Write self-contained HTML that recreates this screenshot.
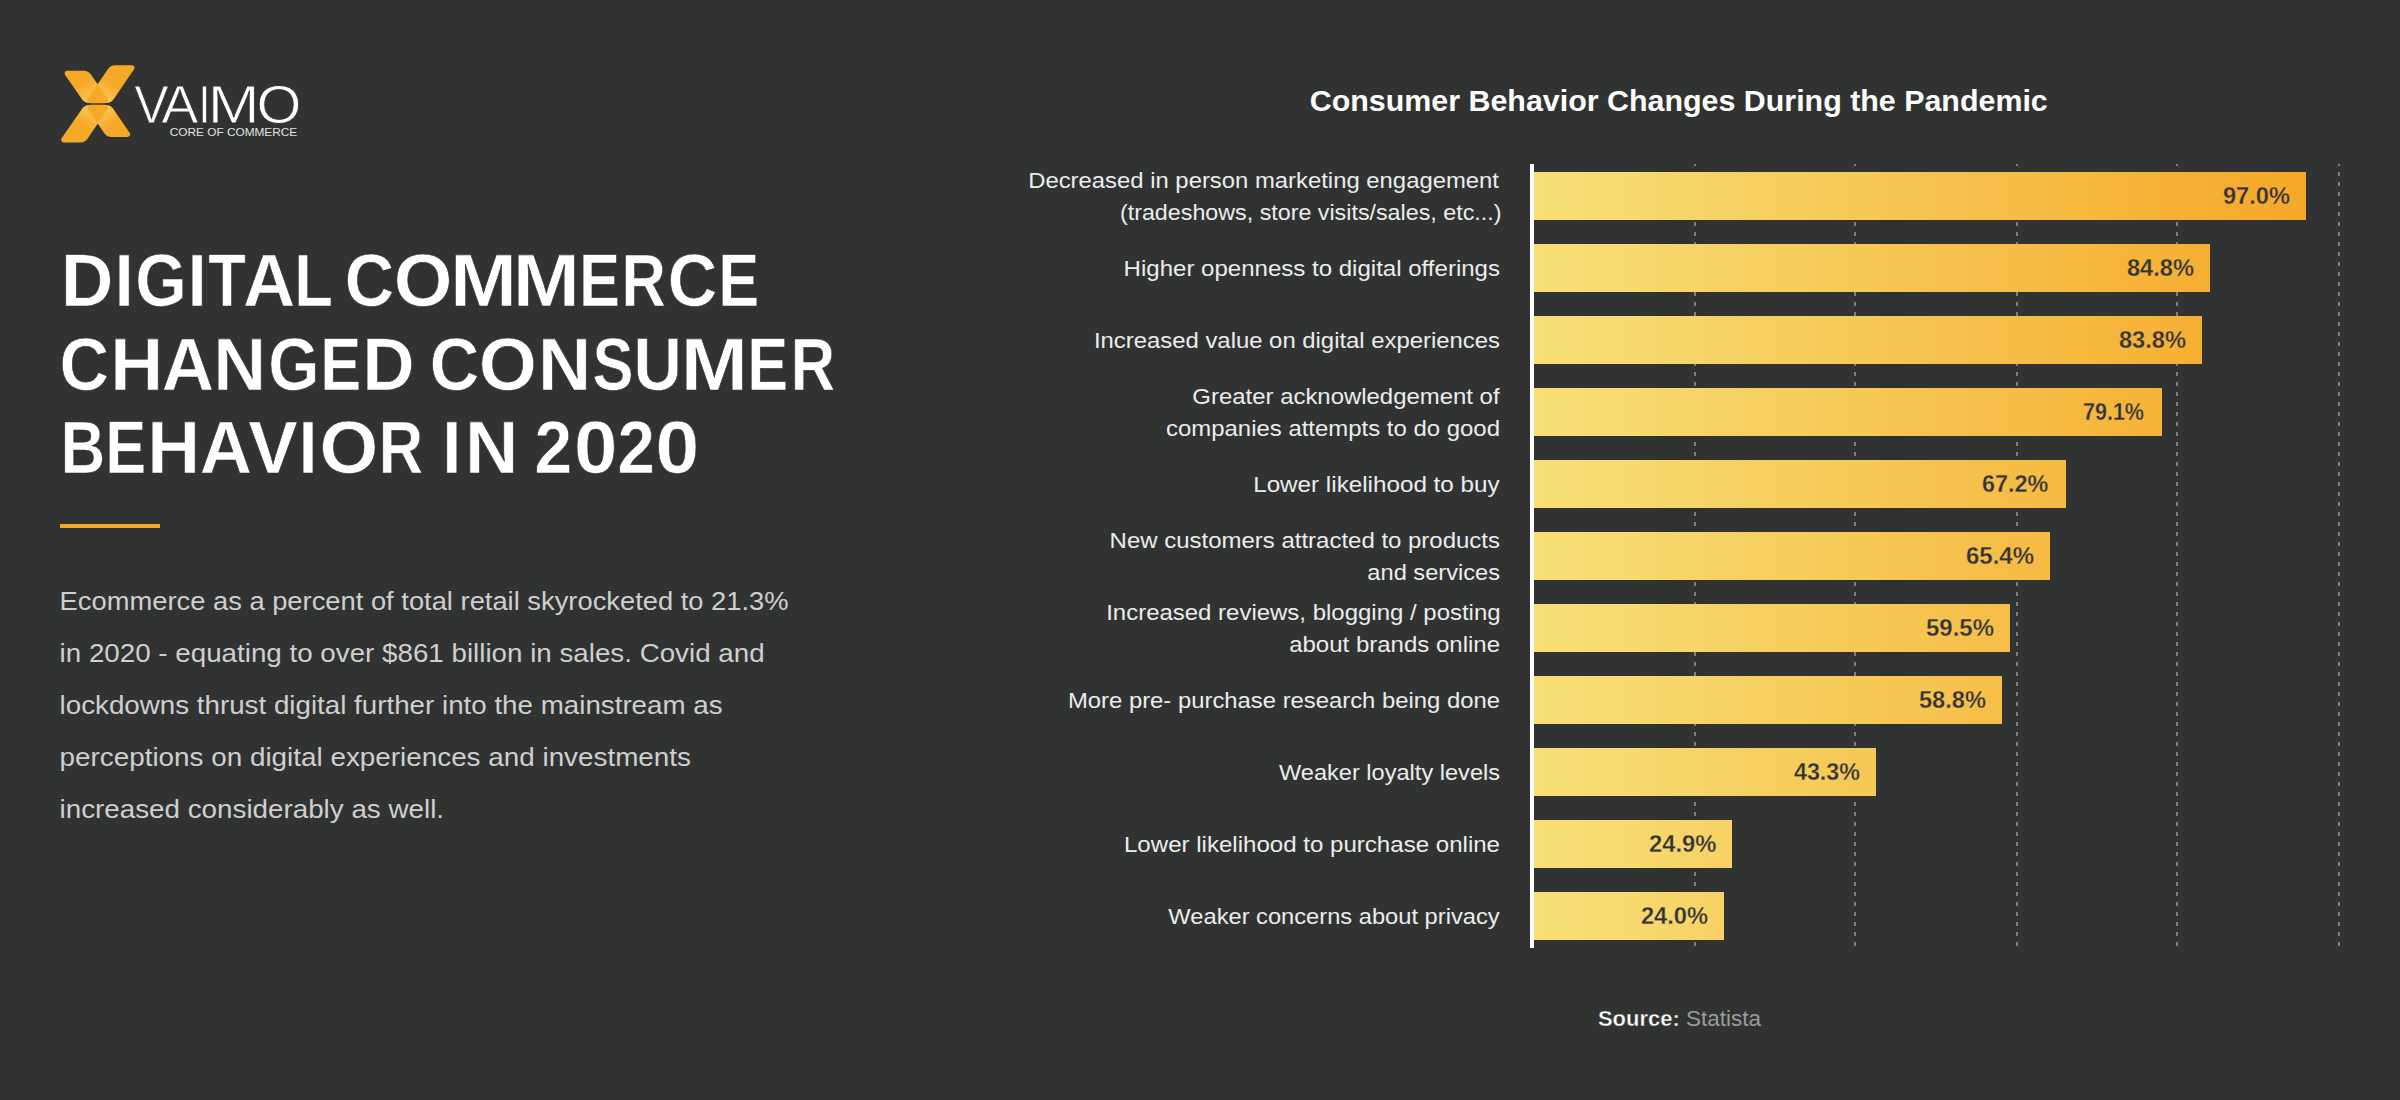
<!DOCTYPE html>
<html lang="en">
<head>
<meta charset="utf-8">
<title>Digital Commerce Changed Consumer Behavior in 2020</title>
<style>
html,body{margin:0;padding:0;background:#313333;}
body{width:2400px;height:1100px;overflow:hidden;font-family:"Liberation Sans", sans-serif;}
svg{display:block;position:absolute;left:0;top:0;}
text{font-family:"Liberation Sans", sans-serif;white-space:pre;}
.h1{font-size:73.2px;font-weight:700;fill:#fff;stroke:#313333;stroke-width:0.6px;}
.body{font-size:26.4px;fill:#cfcfcf;}
.ctitle{font-size:28.8px;font-weight:700;fill:#fff;}
.lbl{font-size:22.6px;fill:#ececec;}
.val{font-size:24px;font-weight:700;fill:#2f3336;stroke:url(#barg);stroke-width:0.3px;}
.srcb{font-size:22.5px;font-weight:700;fill:#fff;stroke:#313333;stroke-width:0.4px;}
.src{font-size:22.5px;fill:#9b9b9b;}
.vaimo{font-size:53.5px;fill:#fff;stroke:#313333;stroke-width:0.8px;}
.core{font-size:11.8px;fill:#e2e2e2;}
</style>
</head>
<body>
<svg width="2400" height="1100" viewBox="0 0 2400 1100" role="img" aria-label="Digital commerce changed consumer behavior in 2020">
<defs>
<linearGradient id="barg" gradientUnits="userSpaceOnUse" x1="1534" y1="0" x2="2306" y2="0">
<stop offset="0" stop-color="#f7e078"/><stop offset="1" stop-color="#f5a828"/>
</linearGradient>
</defs>
<rect x="0" y="0" width="2400" height="1100" fill="#313333"/>

<g id="logo">
<defs>
<linearGradient id="lgA" gradientUnits="userSpaceOnUse" x1="97.5" y1="104" x2="83" y2="83"><stop offset="0" stop-color="#f9d468"/><stop offset="1" stop-color="#f6a828"/></linearGradient>
<linearGradient id="lgB" gradientUnits="userSpaceOnUse" x1="97.5" y1="104" x2="112" y2="83"><stop offset="0" stop-color="#f9d468"/><stop offset="1" stop-color="#f6a828"/></linearGradient>
<linearGradient id="lgC" gradientUnits="userSpaceOnUse" x1="97.5" y1="104" x2="112" y2="125"><stop offset="0" stop-color="#f9d468"/><stop offset="1" stop-color="#f6a828"/></linearGradient>
<linearGradient id="lgD" gradientUnits="userSpaceOnUse" x1="97.5" y1="104" x2="83" y2="125"><stop offset="0" stop-color="#f9d468"/><stop offset="1" stop-color="#f6a828"/></linearGradient>
<clipPath id="cpB"><path d="M107.82 69.14A9 9 0 0 1 115.26 65.20L131.89 65.20A2.6 2.6 0 0 1 134.04 69.26L113.78 99.06A9 9 0 0 1 106.34 103.00L89.71 103.00A2.6 2.6 0 0 1 87.56 98.94Z"/></clipPath>
<clipPath id="cpD"><path d="M81.92 108.89A9 9 0 0 1 89.33 105.00L105.49 105.00A2.6 2.6 0 0 1 107.64 109.06L87.68 138.46A9 9 0 0 1 80.23 142.40L63.75 142.40A2.6 2.6 0 0 1 61.61 138.32Z"/></clipPath>
</defs>
<path d="M65.11 74.88A2.6 2.6 0 0 1 67.25 70.80L83.67 70.80A9 9 0 0 1 91.08 74.69L107.79 98.92A2.6 2.6 0 0 1 105.65 103.00L89.23 103.00A9 9 0 0 1 81.82 99.11Z" fill="url(#lgA)"/>
<path d="M107.82 69.14A9 9 0 0 1 115.26 65.20L131.89 65.20A2.6 2.6 0 0 1 134.04 69.26L113.78 99.06A9 9 0 0 1 106.34 103.00L89.71 103.00A2.6 2.6 0 0 1 87.56 98.94Z" fill="url(#lgB)"/>
<path d="M65.11 74.88A2.6 2.6 0 0 1 67.25 70.80L83.67 70.80A9 9 0 0 1 91.08 74.69L107.79 98.92A2.6 2.6 0 0 1 105.65 103.00L89.23 103.00A9 9 0 0 1 81.82 99.11Z" fill="#f6a828" clip-path="url(#cpB)"/>
<path d="M87.77 109.06A2.6 2.6 0 0 1 89.92 105.00L105.94 105.00A9 9 0 0 1 113.38 108.93L129.73 132.94A2.6 2.6 0 0 1 127.58 137.00L111.56 137.00A9 9 0 0 1 104.12 133.07Z" fill="url(#lgC)"/>
<path d="M81.92 108.89A9 9 0 0 1 89.33 105.00L105.49 105.00A2.6 2.6 0 0 1 107.64 109.06L87.68 138.46A9 9 0 0 1 80.23 142.40L63.75 142.40A2.6 2.6 0 0 1 61.61 138.32Z" fill="url(#lgD)"/>
<path d="M87.77 109.06A2.6 2.6 0 0 1 89.92 105.00L105.94 105.00A9 9 0 0 1 113.38 108.93L129.73 132.94A2.6 2.6 0 0 1 127.58 137.00L111.56 137.00A9 9 0 0 1 104.12 133.07Z" fill="#f6a828" clip-path="url(#cpD)"/>
<rect x="90.5" y="103.4" width="14.5" height="1.2" fill="#8f6d2c"/>

<text y="123.4" class="vaimo"><tspan x="134.24" textLength="34.45" lengthAdjust="spacingAndGlyphs">V</tspan><tspan x="161.22" textLength="37.15" lengthAdjust="spacingAndGlyphs">A</tspan><tspan x="198.24" textLength="12.26" lengthAdjust="spacingAndGlyphs">I</tspan><tspan x="207.70" textLength="51.80" lengthAdjust="spacingAndGlyphs">M</tspan><tspan x="256.59" textLength="44.94" lengthAdjust="spacingAndGlyphs">O</tspan></text>
<text x="169.77" y="136.2" class="core" textLength="127.44" lengthAdjust="spacingAndGlyphs">CORE OF COMMERCE</text>
</g>
<g id="headline">
<text y="306.2" class="h1"><tspan x="61.12" textLength="52.36" lengthAdjust="spacingAndGlyphs">D</tspan><tspan x="114.43" textLength="19.22" lengthAdjust="spacingAndGlyphs">I</tspan><tspan x="135.22" textLength="51.53" lengthAdjust="spacingAndGlyphs">G</tspan><tspan x="187.47" textLength="19.22" lengthAdjust="spacingAndGlyphs">I</tspan><tspan x="208.34" textLength="37.56" lengthAdjust="spacingAndGlyphs">T</tspan><tspan x="242.97" textLength="52.22" lengthAdjust="spacingAndGlyphs">A</tspan><tspan x="294.17" textLength="37.56" lengthAdjust="spacingAndGlyphs">L</tspan> <tspan x="344.78" textLength="49.34" lengthAdjust="spacingAndGlyphs">C</tspan><tspan x="393.73" textLength="58.64" lengthAdjust="spacingAndGlyphs">O</tspan><tspan x="449.95" textLength="67.07" lengthAdjust="spacingAndGlyphs">M</tspan><tspan x="512.78" textLength="67.07" lengthAdjust="spacingAndGlyphs">M</tspan><tspan x="579.02" textLength="41.02" lengthAdjust="spacingAndGlyphs">E</tspan><tspan x="621.51" textLength="44.40" lengthAdjust="spacingAndGlyphs">R</tspan><tspan x="667.76" textLength="49.47" lengthAdjust="spacingAndGlyphs">C</tspan><tspan x="718.22" textLength="41.02" lengthAdjust="spacingAndGlyphs">E</tspan></text>
<text y="389.8" class="h1"><tspan x="59.61" textLength="49.46" lengthAdjust="spacingAndGlyphs">C</tspan><tspan x="110.16" textLength="52.79" lengthAdjust="spacingAndGlyphs">H</tspan><tspan x="161.84" textLength="52.34" lengthAdjust="spacingAndGlyphs">A</tspan><tspan x="213.18" textLength="52.79" lengthAdjust="spacingAndGlyphs">N</tspan><tspan x="268.34" textLength="51.04" lengthAdjust="spacingAndGlyphs">G</tspan><tspan x="320.23" textLength="41.02" lengthAdjust="spacingAndGlyphs">E</tspan><tspan x="362.14" textLength="52.36" lengthAdjust="spacingAndGlyphs">D</tspan> <tspan x="429.85" textLength="49.46" lengthAdjust="spacingAndGlyphs">C</tspan><tspan x="478.72" textLength="58.03" lengthAdjust="spacingAndGlyphs">O</tspan><tspan x="538.02" textLength="53.13" lengthAdjust="spacingAndGlyphs">N</tspan><tspan x="592.40" textLength="41.02" lengthAdjust="spacingAndGlyphs">S</tspan><tspan x="633.61" textLength="48.38" lengthAdjust="spacingAndGlyphs">U</tspan><tspan x="680.79" textLength="67.07" lengthAdjust="spacingAndGlyphs">M</tspan><tspan x="747.23" textLength="41.02" lengthAdjust="spacingAndGlyphs">E</tspan><tspan x="790.72" textLength="44.40" lengthAdjust="spacingAndGlyphs">R</tspan></text>
<text y="473.4" class="h1"><tspan x="60.68" textLength="44.40" lengthAdjust="spacingAndGlyphs">B</tspan><tspan x="105.20" textLength="41.02" lengthAdjust="spacingAndGlyphs">E</tspan><tspan x="147.18" textLength="52.77" lengthAdjust="spacingAndGlyphs">H</tspan><tspan x="199.79" textLength="52.23" lengthAdjust="spacingAndGlyphs">A</tspan><tspan x="248.27" textLength="49.51" lengthAdjust="spacingAndGlyphs">V</tspan><tspan x="298.59" textLength="19.05" lengthAdjust="spacingAndGlyphs">I</tspan><tspan x="319.42" textLength="58.77" lengthAdjust="spacingAndGlyphs">O</tspan><tspan x="378.87" textLength="44.40" lengthAdjust="spacingAndGlyphs">R</tspan> <tspan x="442.27" textLength="19.24" lengthAdjust="spacingAndGlyphs">I</tspan><tspan x="464.97" textLength="53.20" lengthAdjust="spacingAndGlyphs">N</tspan> <tspan x="534.44" textLength="37.60" lengthAdjust="spacingAndGlyphs">2</tspan><tspan x="573.97" textLength="43.47" lengthAdjust="spacingAndGlyphs">0</tspan><tspan x="617.47" textLength="37.32" lengthAdjust="spacingAndGlyphs">2</tspan><tspan x="655.62" textLength="43.75" lengthAdjust="spacingAndGlyphs">0</tspan></text>
</g>
<rect x="60" y="524" width="100" height="4" fill="#f8a828"/>
<g id="intro">
<text x="59.58" y="610" class="body" textLength="729.02" lengthAdjust="spacingAndGlyphs">Ecommerce as a percent of total retail skyrocketed to 21.3%</text>
<text x="59.58" y="662" class="body" textLength="705.03" lengthAdjust="spacingAndGlyphs">in 2020 - equating to over $861 billion in sales. Covid and</text>
<text x="59.59" y="714" class="body" textLength="663.02" lengthAdjust="spacingAndGlyphs">lockdowns thrust digital further into the mainstream as</text>
<text x="59.58" y="766" class="body" textLength="631.42" lengthAdjust="spacingAndGlyphs">perceptions on digital experiences and investments</text>
<text x="59.56" y="818" class="body" textLength="384.48" lengthAdjust="spacingAndGlyphs">increased considerably as well.</text>
</g>
<g id="chart">
<text x="1309.79" y="110.6" class="ctitle" textLength="738.01" lengthAdjust="spacingAndGlyphs">Consumer Behavior Changes During the Pandemic</text>
<line x1="1695" y1="164" x2="1695" y2="948" stroke="#7f7f7f" stroke-width="2" stroke-dasharray="4 6" stroke-dashoffset="2"/>
<line x1="1855" y1="164" x2="1855" y2="948" stroke="#7f7f7f" stroke-width="2" stroke-dasharray="4 6" stroke-dashoffset="2"/>
<line x1="2017" y1="164" x2="2017" y2="948" stroke="#7f7f7f" stroke-width="2" stroke-dasharray="4 6" stroke-dashoffset="2"/>
<line x1="2177" y1="164" x2="2177" y2="948" stroke="#7f7f7f" stroke-width="2" stroke-dasharray="4 6" stroke-dashoffset="2"/>
<line x1="2339" y1="164" x2="2339" y2="948" stroke="#7f7f7f" stroke-width="2" stroke-dasharray="4 6" stroke-dashoffset="2"/>
<rect x="1534" y="172" width="772" height="48" fill="url(#barg)"/>
<rect x="1534" y="244" width="676" height="48" fill="url(#barg)"/>
<rect x="1534" y="316" width="668" height="48" fill="url(#barg)"/>
<rect x="1534" y="388" width="628" height="48" fill="url(#barg)"/>
<rect x="1534" y="460" width="532" height="48" fill="url(#barg)"/>
<rect x="1534" y="532" width="516" height="48" fill="url(#barg)"/>
<rect x="1534" y="604" width="476" height="48" fill="url(#barg)"/>
<rect x="1534" y="676" width="468" height="48" fill="url(#barg)"/>
<rect x="1534" y="748" width="342" height="48" fill="url(#barg)"/>
<rect x="1534" y="820" width="198" height="48" fill="url(#barg)"/>
<rect x="1534" y="892" width="190" height="48" fill="url(#barg)"/>
<text x="1028.18" y="188" class="lbl" textLength="470.82" lengthAdjust="spacingAndGlyphs">Decreased in person marketing engagement</text>
<text x="1119.98" y="220" class="lbl" textLength="381.44" lengthAdjust="spacingAndGlyphs">(tradeshows, store visits/sales, etc...)</text>
<text x="2222.97" y="204" class="val" textLength="67.06" lengthAdjust="spacingAndGlyphs">97.0%</text>
<text x="1123.58" y="276" class="lbl" textLength="376.43" lengthAdjust="spacingAndGlyphs">Higher openness to digital offerings</text>
<text x="2126.97" y="276" class="val" textLength="67.06" lengthAdjust="spacingAndGlyphs">84.8%</text>
<text x="1093.98" y="348" class="lbl" textLength="406.03" lengthAdjust="spacingAndGlyphs">Increased value on digital experiences</text>
<text x="2118.97" y="348" class="val" textLength="67.06" lengthAdjust="spacingAndGlyphs">83.8%</text>
<text x="1192.39" y="404" class="lbl" textLength="307.21" lengthAdjust="spacingAndGlyphs">Greater acknowledgement of</text>
<text x="1165.98" y="436" class="lbl" textLength="334.04" lengthAdjust="spacingAndGlyphs">companies attempts to do good</text>
<text x="2082.96" y="420" class="val" textLength="61.07" lengthAdjust="spacingAndGlyphs">79.1%</text>
<text x="1253.16" y="492" class="lbl" textLength="246.45" lengthAdjust="spacingAndGlyphs">Lower likelihood to buy</text>
<text x="1981.97" y="492" class="val" textLength="66.29" lengthAdjust="spacingAndGlyphs">67.2%</text>
<text x="1109.57" y="548" class="lbl" textLength="390.44" lengthAdjust="spacingAndGlyphs">New customers attracted to products</text>
<text x="1367.36" y="580" class="lbl" textLength="132.67" lengthAdjust="spacingAndGlyphs">and services</text>
<text x="1965.97" y="564" class="val" textLength="68.06" lengthAdjust="spacingAndGlyphs">65.4%</text>
<text x="1106.18" y="620" class="lbl" textLength="394.43" lengthAdjust="spacingAndGlyphs">Increased reviews, blogging / posting</text>
<text x="1289.18" y="652" class="lbl" textLength="210.85" lengthAdjust="spacingAndGlyphs">about brands online</text>
<text x="1925.97" y="636" class="val" textLength="68.06" lengthAdjust="spacingAndGlyphs">59.5%</text>
<text x="1067.98" y="708" class="lbl" textLength="432.03" lengthAdjust="spacingAndGlyphs">More pre- purchase research being done</text>
<text x="1918.97" y="708" class="val" textLength="67.06" lengthAdjust="spacingAndGlyphs">58.8%</text>
<text x="1279.00" y="780" class="lbl" textLength="221.02" lengthAdjust="spacingAndGlyphs">Weaker loyalty levels</text>
<text x="1793.98" y="780" class="val" textLength="66.05" lengthAdjust="spacingAndGlyphs">43.3%</text>
<text x="1123.97" y="852" class="lbl" textLength="376.05" lengthAdjust="spacingAndGlyphs">Lower likelihood to purchase online</text>
<text x="1648.97" y="852" class="val" textLength="67.49" lengthAdjust="spacingAndGlyphs">24.9%</text>
<text x="1168.39" y="924" class="lbl" textLength="331.22" lengthAdjust="spacingAndGlyphs">Weaker concerns about privacy</text>
<text x="1640.97" y="924" class="val" textLength="67.06" lengthAdjust="spacingAndGlyphs">24.0%</text>
<rect x="1530" y="164" width="4" height="784" fill="#fff"/>
<text x="1597.97" y="1026" class="srcb" textLength="81.73" lengthAdjust="spacingAndGlyphs">Source:</text>
<text x="1685.99" y="1026" class="src" textLength="75.05" lengthAdjust="spacingAndGlyphs">Statista</text>
</g>
</svg>
</body>
</html>
